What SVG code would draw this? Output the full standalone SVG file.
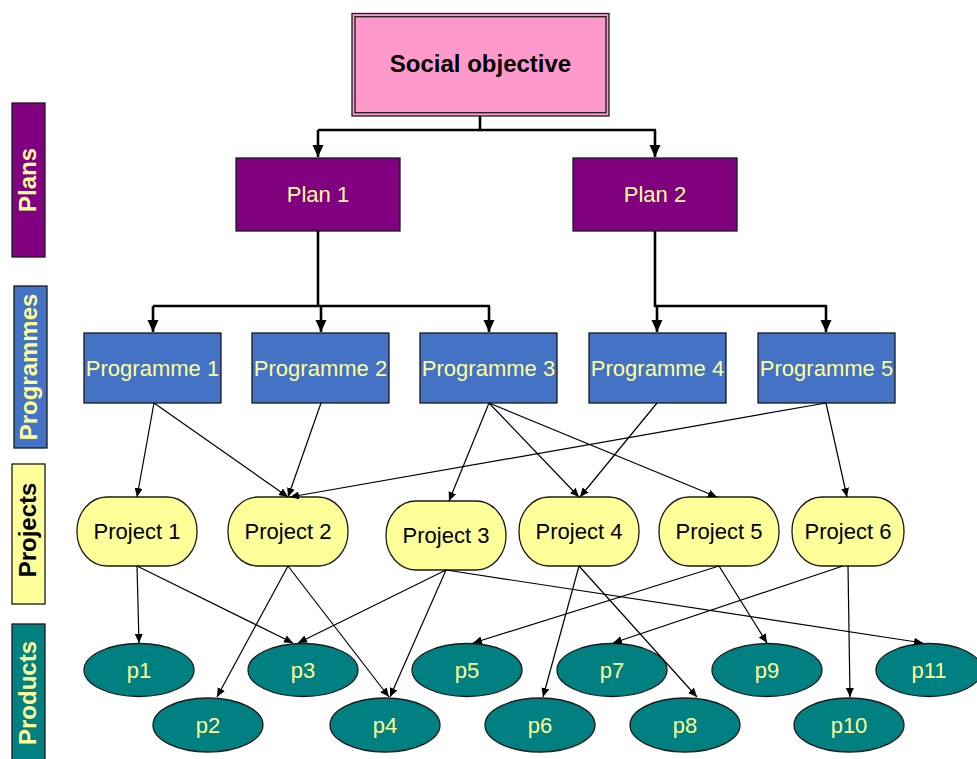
<svg xmlns="http://www.w3.org/2000/svg" width="977" height="759" viewBox="0 0 977 759">
  <style>
    text { font-family: "Liberation Sans", Arial, sans-serif; }
    .label { font-size: 22px; text-anchor: middle; fill: #FFFF99; }
    .dark { fill: #000000; }
    .legend { font-size: 24px; font-weight: bold; text-anchor: middle; }
    .edge { stroke: #1a1a1a; stroke-width: 1.3; }
    .plan { fill: #800080; stroke: #1a1a1a; stroke-width: 1.3; }
    .prog { fill: #4472C4; stroke: #1a1a1a; stroke-width: 1.3; }
    .proj { fill: #FFFF99; stroke: #1a1a1a; stroke-width: 1.3; }
    .prod { fill: #008080; stroke: #1a1a1a; stroke-width: 1.3; }
    .tree { fill: none; stroke: #000000; stroke-width: 2.6; }
    .link { fill: none; stroke: #000000; stroke-width: 1.2; }
  </style>
  <defs>
    <marker id="bigArrow" markerUnits="userSpaceOnUse" markerWidth="13" markerHeight="12" refX="12" refY="5.5" orient="auto">
      <path d="M0,0 L12,5.5 L0,11 z" fill="#000"/>
    </marker>
    <marker id="smallArrow" markerUnits="userSpaceOnUse" markerWidth="10" markerHeight="9" refX="9" refY="4" orient="auto">
      <path d="M0,0 L9,4 L0,8 z" fill="#000"/>
    </marker>
  </defs>

  <rect width="977" height="759" fill="#ffffff"/>

  <!-- level legend bars -->
  <g id="legend-plans">
    <rect x="12" y="103" width="33" height="154" class="plan"/>
    <text class="legend" fill="#FFFF99" transform="translate(36,180) rotate(-90)">Plans</text>
  </g>
  <g id="legend-programmes">
    <rect x="14" y="286" width="33" height="162" class="prog"/>
    <text class="legend" fill="#FFFF99" transform="translate(37,367) rotate(-90)">Programmes</text>
  </g>
  <g id="legend-projects">
    <rect x="12" y="464" width="33" height="140" class="proj"/>
    <text class="legend" fill="#000000" transform="translate(36,530) rotate(-90)">Projects</text>
  </g>
  <g id="legend-products">
    <rect x="12" y="624" width="33" height="140" class="prod"/>
    <text class="legend" fill="#FFFF99" transform="translate(36,693) rotate(-90)">Products</text>
  </g>

  <!-- top objective -->
  <g id="social-objective">
    <rect x="352" y="13.5" width="257" height="102.5" fill="#FF99CC" stroke="#1a1a1a" stroke-width="1.3"/>
    <rect x="355" y="16.7" width="251" height="96" fill="none" stroke="#1a1a1a" stroke-width="1.3"/>
    <text x="480.5" y="72" font-size="24" font-weight="bold" text-anchor="middle" fill="#000">Social objective</text>
  </g>

  <!-- plans -->
  <g id="plan1">
    <rect x="236" y="158" width="164" height="73" class="plan"/>
    <text x="318" y="202" class="label">Plan 1</text>
  </g>
  <g id="plan2">
    <rect x="573" y="158" width="164" height="73" class="plan"/>
    <text x="655" y="202" class="label">Plan 2</text>
  </g>

  <!-- programmes -->
  <g id="programme1">
    <rect x="84" y="333" width="137" height="70" class="prog"/>
    <text x="152.5" y="376" class="label">Programme 1</text>
  </g>
  <g id="programme2">
    <rect x="252" y="333" width="137" height="70" class="prog"/>
    <text x="320.5" y="376" class="label">Programme 2</text>
  </g>
  <g id="programme3">
    <rect x="420" y="333" width="137" height="70" class="prog"/>
    <text x="488.5" y="376" class="label">Programme 3</text>
  </g>
  <g id="programme4">
    <rect x="589" y="333" width="137" height="70" class="prog"/>
    <text x="657.5" y="376" class="label">Programme 4</text>
  </g>
  <g id="programme5">
    <rect x="758" y="333" width="137" height="70" class="prog"/>
    <text x="826.5" y="376" class="label">Programme 5</text>
  </g>

  <!-- projects -->
  <g id="project1">
    <rect x="77" y="497" width="120" height="69" rx="30" ry="34" class="proj"/>
    <text x="137" y="539" class="label dark">Project 1</text>
  </g>
  <g id="project2">
    <rect x="228" y="497" width="120" height="69" rx="30" ry="34" class="proj"/>
    <text x="288" y="539" class="label dark">Project 2</text>
  </g>
  <g id="project3">
    <rect x="386" y="501" width="120" height="69" rx="30" ry="34" class="proj"/>
    <text x="446" y="543" class="label dark">Project 3</text>
  </g>
  <g id="project4">
    <rect x="519" y="497" width="120" height="69" rx="30" ry="34" class="proj"/>
    <text x="579" y="539" class="label dark">Project 4</text>
  </g>
  <g id="project5">
    <rect x="659" y="497" width="120" height="69" rx="30" ry="34" class="proj"/>
    <text x="719" y="539" class="label dark">Project 5</text>
  </g>
  <g id="project6">
    <rect x="792" y="497" width="112" height="69" rx="30" ry="34" class="proj"/>
    <text x="848" y="539" class="label dark">Project 6</text>
  </g>

  <!-- products -->
  <g id="p1"><ellipse cx="139" cy="670" rx="55" ry="26.5" class="prod"/><text x="139" y="678" class="label">p1</text></g>
  <g id="p2"><ellipse cx="208" cy="725" rx="55" ry="27" class="prod"/><text x="208" y="733" class="label">p2</text></g>
  <g id="p3"><ellipse cx="303" cy="670" rx="55" ry="26.5" class="prod"/><text x="303" y="678" class="label">p3</text></g>
  <g id="p4"><ellipse cx="385" cy="725" rx="55" ry="27" class="prod"/><text x="385" y="733" class="label">p4</text></g>
  <g id="p5"><ellipse cx="467" cy="670" rx="55" ry="26.5" class="prod"/><text x="467" y="678" class="label">p5</text></g>
  <g id="p6"><ellipse cx="540" cy="725" rx="55" ry="27" class="prod"/><text x="540" y="733" class="label">p6</text></g>
  <g id="p7"><ellipse cx="612" cy="670" rx="55" ry="26.5" class="prod"/><text x="612" y="678" class="label">p7</text></g>
  <g id="p8"><ellipse cx="685" cy="725" rx="55" ry="27" class="prod"/><text x="685" y="733" class="label">p8</text></g>
  <g id="p9"><ellipse cx="767" cy="670" rx="55" ry="26.5" class="prod"/><text x="767" y="678" class="label">p9</text></g>
  <g id="p10"><ellipse cx="849" cy="725" rx="55" ry="27" class="prod"/><text x="849" y="733" class="label">p10</text></g>
  <g id="p11"><ellipse cx="929" cy="670" rx="53" ry="26.5" class="prod"/><text x="929" y="678" class="label">p11</text></g>

  <!-- connectors -->
  <g id="connectors">
    <!-- objective to plans -->
    <path class="tree" d="M480,116 V130 M318,130 H656"/>
    <path class="tree" d="M318,130 V157" marker-end="url(#bigArrow)"/>
    <path class="tree" d="M655,130 V157" marker-end="url(#bigArrow)"/>
    <!-- plans to programmes -->
    <path class="tree" d="M318,231 V306 M153,306 H490"/>
    <path class="tree" d="M153,306 V332" marker-end="url(#bigArrow)"/>
    <path class="tree" d="M321,306 V332" marker-end="url(#bigArrow)"/>
    <path class="tree" d="M489,306 V332" marker-end="url(#bigArrow)"/>
    <path class="tree" d="M655,231 V306 H827"/>
    <path class="tree" d="M657,306 V332" marker-end="url(#bigArrow)"/>
    <path class="tree" d="M826,306 V332" marker-end="url(#bigArrow)"/>

    <!-- programmes to projects -->
    <line class="link" x1="154" y1="403" x2="137" y2="497" marker-end="url(#smallArrow)"/>
    <line class="link" x1="154" y1="403" x2="288" y2="497" marker-end="url(#smallArrow)"/>
    <line class="link" x1="321" y1="403" x2="288" y2="497" marker-end="url(#smallArrow)"/>
    <line class="link" x1="826" y1="403" x2="290" y2="497" marker-end="url(#smallArrow)"/>
    <line class="link" x1="489" y1="403" x2="449" y2="501" marker-end="url(#smallArrow)"/>
    <line class="link" x1="489" y1="403" x2="579" y2="497" marker-end="url(#smallArrow)"/>
    <line class="link" x1="489" y1="403" x2="717" y2="497" marker-end="url(#smallArrow)"/>
    <line class="link" x1="657" y1="403" x2="580" y2="497" marker-end="url(#smallArrow)"/>
    <line class="link" x1="826" y1="403" x2="847" y2="497" marker-end="url(#smallArrow)"/>

    <!-- projects to products -->
    <line class="link" x1="137" y1="566" x2="139" y2="643" marker-end="url(#smallArrow)"/>
    <line class="link" x1="137" y1="566" x2="293" y2="643" marker-end="url(#smallArrow)"/>
    <line class="link" x1="288" y1="566" x2="217" y2="697" marker-end="url(#smallArrow)"/>
    <line class="link" x1="288" y1="566" x2="389" y2="697" marker-end="url(#smallArrow)"/>
    <line class="link" x1="446" y1="570" x2="298" y2="643" marker-end="url(#smallArrow)"/>
    <line class="link" x1="446" y1="570" x2="390" y2="697" marker-end="url(#smallArrow)"/>
    <line class="link" x1="446" y1="570" x2="923" y2="643" marker-end="url(#smallArrow)"/>
    <line class="link" x1="719" y1="566" x2="473" y2="643" marker-end="url(#smallArrow)"/>
    <line class="link" x1="579" y1="566" x2="543" y2="697" marker-end="url(#smallArrow)"/>
    <line class="link" x1="579" y1="566" x2="697" y2="697" marker-end="url(#smallArrow)"/>
    <line class="link" x1="843" y1="566" x2="613" y2="643" marker-end="url(#smallArrow)"/>
    <line class="link" x1="719" y1="566" x2="767" y2="643" marker-end="url(#smallArrow)"/>
    <line class="link" x1="848" y1="566" x2="850" y2="697" marker-end="url(#smallArrow)"/>
  </g>
</svg>
